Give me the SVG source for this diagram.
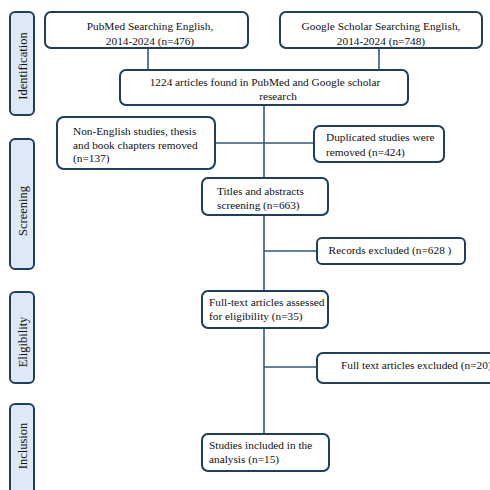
<svg xmlns="http://www.w3.org/2000/svg" width="490" height="490" viewBox="0 0 490 490">
<style>
.box{fill:#fff;stroke:#1f3d5c;stroke-width:2}
.phase{fill:#dde9f6;stroke:#1f3d5c;stroke-width:2}
.t{font-family:'Liberation Serif','Times New Roman',Times,serif;font-size:11.3px;fill:#111}
.c{text-anchor:middle}
.p{font-family:'Liberation Serif','Times New Roman',Times,serif;font-size:12.5px;fill:#111;text-anchor:middle}
.ln{stroke:#2c5a7e;stroke-width:1.6;fill:none}
</style>
<rect width="490" height="490" fill="#fff"/>
<g id="phase-identification"><rect class="phase" x="10" y="12" width="24" height="103" rx="5"/><text class="p" transform="translate(26.5,66) rotate(-90)">Identification</text></g>
<g id="phase-screening"><rect class="phase" x="10" y="139" width="24" height="130" rx="5"/><text class="p" transform="translate(26.5,211) rotate(-90)">Screening</text></g>
<g id="phase-eligibility"><rect class="phase" x="10" y="292" width="24" height="91" rx="5"/><text class="p" transform="translate(26.5,342) rotate(-90)">Eligibility</text></g>
<g id="phase-inclusion"><rect class="phase" x="10" y="404" width="24" height="100" rx="5"/><text class="p" transform="translate(26.5,446) rotate(-90)">Inclusion</text></g>
<g id="connectors">
<line class="ln" x1="148" y1="48" x2="148" y2="70"/>
<line class="ln" x1="379" y1="48" x2="379" y2="70"/>
<line class="ln" x1="264" y1="105" x2="264" y2="434"/>
<line class="ln" x1="215" y1="143" x2="314" y2="143"/>
<line class="ln" x1="264" y1="251" x2="317" y2="251"/>
<line class="ln" x1="264" y1="367" x2="317" y2="367"/>
</g>
<g id="pubmed"><rect class="box" x="45" y="12" width="203" height="36" rx="6"/><text class="t c" x="150" y="30">PubMed Searching English,</text><text class="t c" x="150" y="44.5">2014-2024 (n=476)</text></g>
<g id="google"><rect class="box" x="280" y="12" width="202" height="36" rx="6"/><text class="t c" x="381" y="30">Google Scholar Searching English,</text><text class="t c" x="381" y="44.5">2014-2024 (n=748)</text></g>
<g id="found"><rect class="box" x="120" y="70" width="288" height="35" rx="6"/><text class="t c" x="265" y="86">1224 articles found in PubMed and Google scholar</text><text class="t c" x="278" y="100">research</text></g>
<g id="nonenglish"><rect class="box" x="57" y="117" width="158" height="52" rx="7"/><text class="t" x="73" y="135">Non-English studies, thesis</text><text class="t" x="73" y="148.5">and book chapters removed</text><text class="t" x="73" y="162">(n=137)</text></g>
<g id="duplicated"><rect class="box" x="314" y="126" width="130" height="36" rx="6"/><text class="t" x="326" y="141">Duplicated studies were</text><text class="t" x="326" y="155.5">removed (n=424)</text></g>
<g id="titles"><rect class="box" x="202" y="178" width="126" height="37" rx="6"/><text class="t" x="217" y="195">Titles and abstracts</text><text class="t" x="217" y="208.5">screening (n=663)</text></g>
<g id="records"><rect class="box" x="317" y="238" width="148" height="26" rx="5"/><text class="t c" x="390" y="254">Records excluded (n=628 )</text></g>
<g id="fulltext"><rect class="box" x="202" y="291" width="126" height="37" rx="6"/><text class="t" x="209" y="306">Full-text articles assessed</text><text class="t" x="209" y="319.5">for eligibility (n=35)</text></g>
<g id="fulltextexcluded"><rect class="box" x="317" y="353" width="190" height="30" rx="6"/><text class="t" x="341" y="369">Full text articles excluded (n=20)</text></g>
<g id="included"><rect class="box" x="202" y="434" width="127" height="37" rx="6"/><text class="t" x="209" y="449">Studies included in the</text><text class="t" x="209" y="463">analysis (n=15)</text></g>
</svg>
